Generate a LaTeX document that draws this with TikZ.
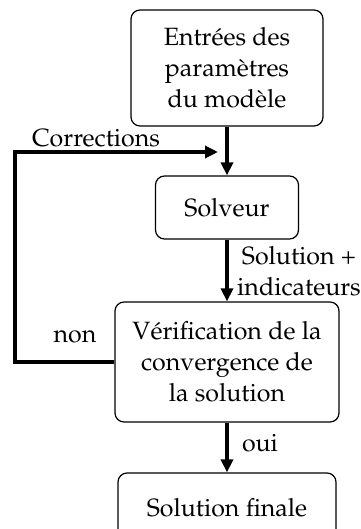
\documentclass[tikz,border=0pt]{standalone}
\usepackage[T1]{fontenc}
\usepackage{mathpazo}
\usetikzlibrary{arrows.meta}

\begin{document}
\begin{tikzpicture}[
  x=1pt, y=-1pt,
  >={Triangle[length=13pt, width=12pt]},
  font=\fontsize{25}{31}\selectfont,
  bloc/.style={draw, line width=1.2pt, rounded corners=9pt, align=center, inner sep=0pt},
  fleche/.style={->, line width=4pt},
  etiq/.style={inner sep=0pt, align=center},
  ]
  \useasboundingbox (0,0) rectangle (360,529);
  \clip (0,0) rectangle (360,529);

  % Blocs
  \node[bloc, minimum width=192pt, minimum height=116pt] (entrees) at (227,68) {Entrées des\\paramètres\\du modèle};
  \node[bloc, minimum width=143pt, minimum height=63pt] (solveur) at (227,207.5) {Solveur};
  \node[bloc, minimum width=224pt, minimum height=120pt] (verif) at (227,362) {Vérification de la\\convergence de\\la solution};
  \node[bloc, minimum width=218pt, minimum height=70pt] (finale) at (227,508) {Solution finale};

  % Fleches principales
  \draw[fleche] (entrees) -- (solveur);
  \draw[fleche] (solveur) -- (verif);
  \draw[fleche] (verif) -- (finale);

  % Boucle de correction
  \coordinate (gauche) at (15,152);
  \coordinate (retour) at (218,152);
  \draw[fleche] (verif.west) -| (gauche) -- (retour);

  % Etiquettes
  \node[etiq] (corr) at (96,138) {Corrections};
  \node[etiq] (non) at (75,337) {non};
  \node[etiq] (sol) at (299,271) {Solution +\\indicateurs};
  \node[etiq] (oui) at (260,443) {oui};
\end{tikzpicture}
\end{document}
